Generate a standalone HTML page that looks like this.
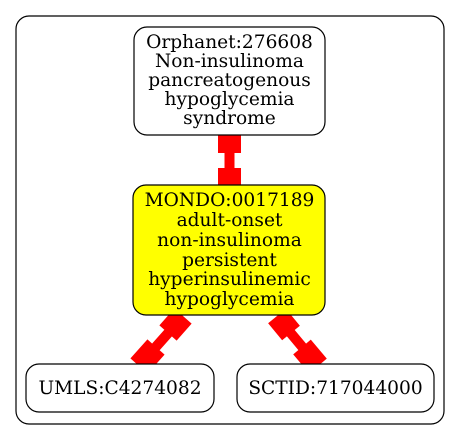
<!DOCTYPE html>
<html><head><meta charset="utf-8">
<style>html,body{margin:0;padding:0;background:#fff;}svg{display:block;}</style>
</head><body>
<svg width="461" height="439" viewBox="0 0 461 439" xmlns="http://www.w3.org/2000/svg" font-family="'DejaVu Serif', serif" font-size="18.6" text-anchor="middle">
<rect x="16" y="16" width="428" height="408" rx="13" fill="#fff" stroke="#000" stroke-width="1.2"/>
<g stroke="#ff0000" fill="none">
<line x1="229.5" y1="131" x2="229.5" y2="153" stroke-width="23"/>
<line x1="229.5" y1="152" x2="229.5" y2="169" stroke-width="10"/>
<line x1="229.5" y1="168" x2="229.5" y2="191" stroke-width="23"/>
</g>
<g stroke="#ff0000" fill="none">
<line x1="183" y1="316" x2="168" y2="333" stroke-width="23"/>
<line x1="170" y1="331" x2="154" y2="349" stroke-width="10"/>
<line x1="156" y1="347" x2="139" y2="366" stroke-width="23"/>
</g>
<g stroke="#ff0000" fill="none">
<line x1="277" y1="316" x2="291" y2="333" stroke-width="23"/>
<line x1="289" y1="331" x2="304" y2="349" stroke-width="10"/>
<line x1="302" y1="347" x2="318" y2="366" stroke-width="23"/>
</g>
<g>
<rect x="134" y="27" width="191" height="108" rx="13" fill="#fff" stroke="#000" stroke-width="1.2"/>
<text x="229.5" y="48">Orphanet:276608</text>
<text x="229.5" y="67">Non-insulinoma</text>
<text x="229.5" y="86">pancreatogenous</text>
<text x="229.5" y="105">hypoglycemia</text>
<text x="229.5" y="124">syndrome</text>
</g>
<g>
<rect x="133" y="185" width="192" height="130" rx="13" fill="#ffff00" stroke="#000" stroke-width="1.2"/>
<text x="229.5" y="206">MONDO:0017189</text>
<text x="229.5" y="226">adult-onset</text>
<text x="229.5" y="246">non-insulinoma</text>
<text x="229.5" y="266">persistent</text>
<text x="229.5" y="285">hyperinsulinemic</text>
<text x="229.5" y="305">hypoglycemia</text>
</g>
<g>
<rect x="26" y="364" width="188" height="48" rx="13" fill="#fff" stroke="#000" stroke-width="1.2"/>
<text x="120" y="394">UMLS:C4274082</text>
</g>
<g>
<rect x="237" y="364" width="197" height="48" rx="13" fill="#fff" stroke="#000" stroke-width="1.2"/>
<text x="335.5" y="394">SCTID:717044000</text>
</g>
</svg>
</body></html>
